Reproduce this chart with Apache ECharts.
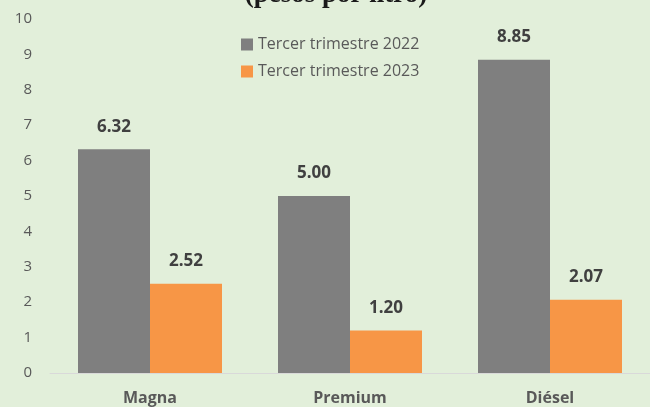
<!DOCTYPE html>
<html>
<head>
<meta charset="utf-8">
<script src="https://cdn.jsdelivr.net/npm/echarts@6/dist/echarts.min.js"></script>
<style>
  html, body { margin: 0; padding: 0; background: #e2efda; }
  #main { width: 650px; height: 407px; }
</style>
</head>
<body>
<div id="main"></div>
<script>
// categorías y valores (pesos por litro)
var categories = ['Magna', 'Premium', 'Diésel'];
var serie2022 = [6.32, 5.00, 8.85];
var serie2023 = [2.52, 1.20, 2.07];
var yTicks = [0, 1, 2, 3, 4, 5, 6, 7, 8, 9, 10];

var myChart = echarts.init(document.getElementById('main'));

var labelStyle = {
    show: true,
    position: 'top',
    distance: 14,
    fontFamily: 'Open Sans, sans-serif',
    fontSize: 17,
    fontWeight: 'bold',
    color: '#404040',
    formatter: function (p) { return p.value.toFixed(2); }
};

var option = {
    backgroundColor: '#e2efda',
    animation: false,
    title: {
        text: '(pesos por litro)',
        left: 331,
        textAlign: 'center',
        top: -23,
        textStyle: {
            fontFamily: 'Liberation Serif, serif',
            fontSize: 27,
            fontWeight: 'bold',
            color: '#1a1a1a'
        }
    },
    legend: {
        orient: 'vertical',
        left: 236,
        top: 31,
        itemWidth: 12,
        itemHeight: 12,
        itemGap: 10,
        icon: 'rect',
        textStyle: {
            fontFamily: 'Open Sans, sans-serif',
            fontSize: 16,
            lineHeight: 17,
            color: '#595959'
        },
        data: ['Tercer trimestre 2022', 'Tercer trimestre 2023']
    },
    grid: { left: 50, right: 0, top: 19, bottom: 34 },
    xAxis: {
        type: 'category',
        data: categories,
        axisLine: { lineStyle: { color: '#d9d9d9' } },
        axisTick: { show: false },
        axisLabel: {
            margin: 17,
            fontFamily: 'Open Sans, sans-serif',
            fontSize: 16,
            fontWeight: 'bold',
            color: '#595959'
        }
    },
    yAxis: {
        type: 'value',
        min: yTicks[0],
        max: yTicks[yTicks.length - 1],
        interval: 1,
        splitLine: { show: false },
        axisLine: { show: false },
        axisTick: { show: false },
        axisLabel: {
            margin: 18,
            fontFamily: 'Open Sans, sans-serif',
            fontSize: 15,
            color: '#595959'
        }
    },
    series: [
        {
            name: 'Tercer trimestre 2022',
            type: 'bar',
            data: serie2022,
            barWidth: '36%',
            barGap: '0%',
            itemStyle: { color: '#7f7f7f' },
            label: labelStyle
        },
        {
            name: 'Tercer trimestre 2023',
            type: 'bar',
            data: serie2023,
            barWidth: '36%',
            itemStyle: { color: '#f79646' },
            label: labelStyle
        }
    ]
};
myChart.setOption(option);
</script>
</body>
</html>
